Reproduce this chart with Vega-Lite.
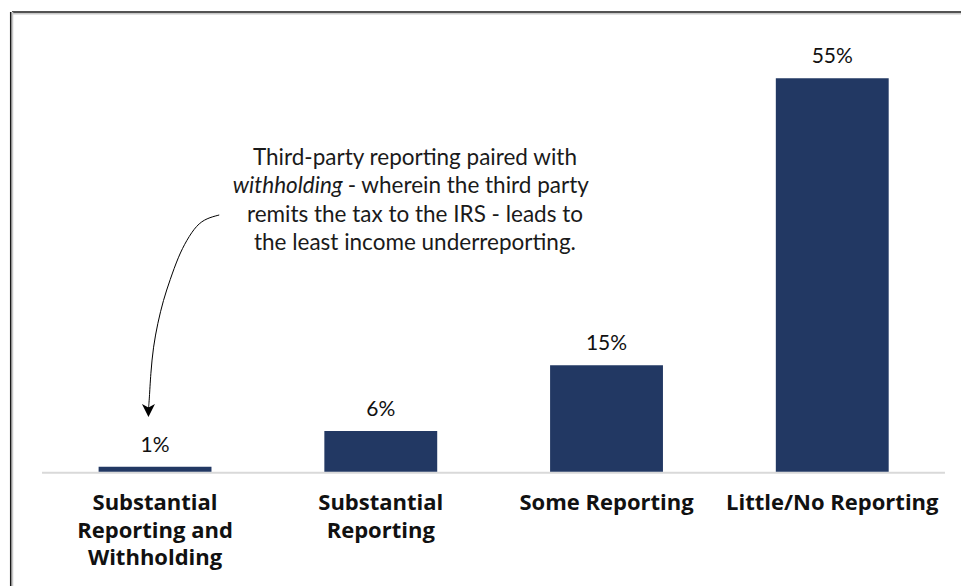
{
  "$schema": "https://vega.github.io/schema/vega-lite/v6.json",
  "width": 949,
  "height": 574,
  "autosize": "none",
  "padding": {"left": 12, "top": 12, "right": 0, "bottom": 0},
  "background": "white",
  "config": {"view": {"stroke": null}, "font": "Lato"},
  "datasets": {
    "bars": [
      {"category": "Substantial Reporting and Withholding", "value": 0.007},
      {"category": "Substantial Reporting", "value": 0.057},
      {"category": "Some Reporting", "value": 0.149},
      {"category": "Little/No Reporting", "value": 0.55}
    ],
    "arrow": [
      {"ax": 0.785, "ay": 0.3589},
      {"ax": 0.7295, "ay": 0.3543},
      {"ax": 0.6852, "ay": 0.3449},
      {"ax": 0.6409, "ay": 0.3239},
      {"ax": 0.6037, "ay": 0.3006},
      {"ax": 0.5669, "ay": 0.268},
      {"ax": 0.5372, "ay": 0.24},
      {"ax": 0.5124, "ay": 0.2075},
      {"ax": 0.4929, "ay": 0.1748},
      {"ax": 0.4814, "ay": 0.1376},
      {"ax": 0.4752, "ay": 0.1002},
      {"ax": 0.4717, "ay": 0.0891}
    ]
  },
  "layer": [
    {
      "layer": [
        {
          "data": {"values": [{}]},
          "mark": {"type": "rule", "color": "#d9d9d9", "strokeWidth": 2, "yOffset": 1},
          "encoding": {
            "x": {"datum": 0, "type": "quantitative", "scale": {"domain": [-0.133, 4.071]}, "axis": null},
            "x2": {"datum": 4},
            "y": {"datum": 0, "type": "quantitative", "scale": {"domain": [-0.1598, 0.6427]}, "axis": null}
          }
        },
        {
          "data": {"values": [{}]},
          "mark": {"type": "rule", "color": "#c8c8c8", "strokeWidth": 1.5, "yOffset": 1.8},
          "encoding": {
            "y": {"datum": 0.6427, "type": "quantitative", "scale": {"domain": [-0.1598, 0.6427]}, "axis": null}
          }
        },
        {
          "data": {"values": [{}]},
          "mark": {"type": "rule", "color": "#1a1a1a", "strokeWidth": 1.5},
          "encoding": {
            "y": {"datum": 0.6427, "type": "quantitative", "scale": {"domain": [-0.1598, 0.6427]}, "axis": null}
          }
        },
        {
          "data": {"values": [{}]},
          "mark": {"type": "rule", "color": "#c8c8c8", "strokeWidth": 1.5, "xOffset": 0.5},
          "encoding": {
            "x": {"datum": -0.133, "type": "quantitative", "scale": {"domain": [-0.133, 4.071]}, "axis": null}
          }
        },
        {
          "data": {"values": [{}]},
          "mark": {"type": "rule", "color": "#1a1a1a", "strokeWidth": 1.5, "xOffset": -1.3},
          "encoding": {
            "x": {"datum": -0.133, "type": "quantitative", "scale": {"domain": [-0.133, 4.071]}, "axis": null}
          }
        },
        {
          "data": {"name": "arrow"},
          "mark": {"type": "line", "color": "#000000", "strokeWidth": 1, "interpolate": "basis"},
          "encoding": {
            "x": {"field": "ax", "type": "quantitative", "scale": {"domain": [-0.133, 4.071]}, "axis": null},
            "y": {"field": "ay", "type": "quantitative", "scale": {"domain": [-0.1598, 0.6427]}, "axis": null},
            "order": {"field": "ay", "sort": "descending"}
          }
        },
        {
          "data": {"values": [{}]},
          "mark": {"type": "point", "shape": "M-1,-1L0,1L1,-1L0,-0.45Z", "size": 169, "filled": true, "color": "#000000", "opacity": 1},
          "encoding": {
            "x": {"datum": 0.4715, "type": "quantitative", "scale": {"domain": [-0.133, 4.071]}, "axis": null},
            "y": {"datum": 0.0856, "type": "quantitative", "scale": {"domain": [-0.1598, 0.6427]}, "axis": null}
          }
        },
        {
          "data": {"values": [{}]},
          "mark": {"type": "text", "text": "Third-party reporting paired with", "align": "center", "baseline": "alphabetic", "fontSize": 22.5, "color": "#1a1a1a"},
          "encoding": {
            "x": {"datum": 1.652, "type": "quantitative", "scale": {"domain": [-0.133, 4.071]}, "axis": null},
            "y": {"datum": 0.4288, "type": "quantitative", "scale": {"domain": [-0.1598, 0.6427]}, "axis": null}
          }
        },
        {
          "data": {"values": [{}]},
          "mark": {"type": "text", "text": "withholding", "fontStyle": "italic", "align": "right", "baseline": "alphabetic", "fontSize": 22.5, "color": "#1a1a1a"},
          "encoding": {
            "x": {"datum": 1.332, "type": "quantitative", "scale": {"domain": [-0.133, 4.071]}, "axis": null},
            "y": {"datum": 0.3892, "type": "quantitative", "scale": {"domain": [-0.1598, 0.6427]}, "axis": null}
          }
        },
        {
          "data": {"values": [{}]},
          "mark": {"type": "text", "text": "- wherein the third party", "align": "left", "baseline": "alphabetic", "fontSize": 22.5, "color": "#1a1a1a"},
          "encoding": {
            "x": {"datum": 1.354, "type": "quantitative", "scale": {"domain": [-0.133, 4.071]}, "axis": null},
            "y": {"datum": 0.3892, "type": "quantitative", "scale": {"domain": [-0.1598, 0.6427]}, "axis": null}
          }
        },
        {
          "data": {"values": [{}]},
          "mark": {
            "type": "text",
            "text": ["remits the tax to the IRS - leads to", "the least income underreporting."],
            "align": "center",
            "baseline": "alphabetic",
            "lineHeight": 28.3,
            "fontSize": 22.5,
            "color": "#1a1a1a"
          },
          "encoding": {
            "x": {"datum": 1.652, "type": "quantitative", "scale": {"domain": [-0.133, 4.071]}, "axis": null},
            "y": {"datum": 0.3495, "type": "quantitative", "scale": {"domain": [-0.1598, 0.6427]}, "axis": null}
          }
        }
      ]
    },
    {
      "data": {"name": "bars"},
      "encoding": {
        "x": {
          "field": "category",
          "type": "nominal",
          "sort": null,
          "scale": {"paddingInner": 0.5, "paddingOuter": 0.352, "align": 0.545},
          "axis": {
            "title": null,
            "offset": -114.3,
            "domain": false,
            "ticks": false,
            "tickSize": 0,
            "labelAngle": 0,
            "labelPadding": 21,
            "labelFont": "Open Sans",
            "labelFontSize": 22,
            "labelFontWeight": "bold",
            "labelColor": "#111111",
            "labelLimit": 0,
            "labelOverlap": false,
            "labelBaseline": "top",
            "labelLineHeight": 27.5,
            "labelExpr": "datum.value == 'Substantial Reporting and Withholding' ? ['Substantial', 'Reporting and', 'Withholding'] : datum.value == 'Substantial Reporting' ? ['Substantial', 'Reporting'] : datum.value"
          }
        },
        "y": {"field": "value", "type": "quantitative", "scale": {"domain": [-0.1598, 0.6427]}, "axis": null}
      },
      "layer": [
        {"mark": {"type": "bar", "color": "#223863"}},
        {
          "mark": {"type": "text", "baseline": "alphabetic", "dy": -15, "fontSize": 21, "color": "#111111"},
          "encoding": {"text": {"field": "value", "type": "quantitative", "format": ".0%"}}
        }
      ]
    }
  ],
  "resolve": {"scale": {"x": "independent"}}
}
